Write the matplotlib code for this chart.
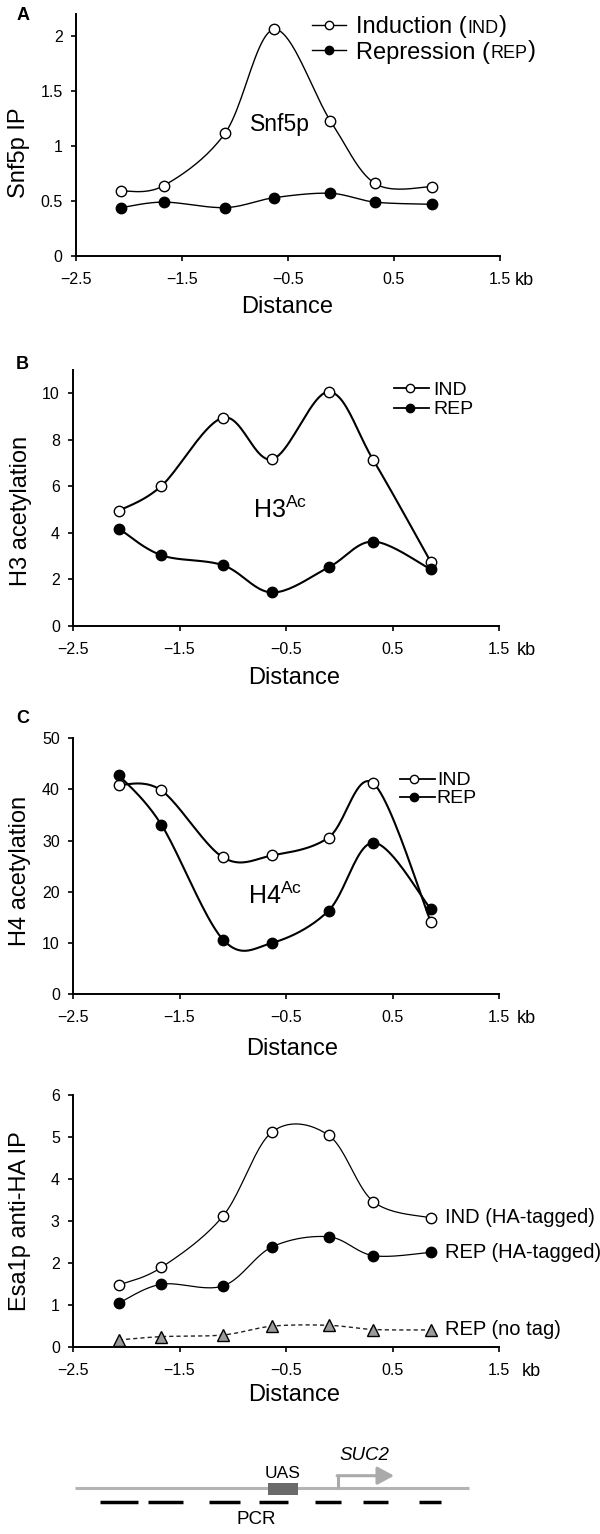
import numpy as np
import matplotlib
matplotlib.use("Agg")
import matplotlib.pyplot as plt
from matplotlib.transforms import offset_copy

plt.rcParams["font.family"] = ["Liberation Sans", "DejaVu Sans"]
plt.rcParams["mathtext.fontset"] = "custom"
plt.rcParams["mathtext.rm"] = "Liberation Sans"

# ── data ──────────────────────────────────────────────────────
distance = [-2.07, -1.67, -1.09, -0.63, -0.10, 0.32, 0.86]   # kb
x_ticks = [-2.5, -1.5, -0.5, 0.5, 1.5]

snf5_ind = [0.59, 0.64, 1.12, 2.06, 1.23, 0.66, 0.63]
snf5_rep = [0.44, 0.49, 0.44, 0.53, 0.57, 0.49, 0.47]

h3_ind = [4.94, 6.01, 8.95, 7.16, 10.06, 7.12, 2.74]
h3_rep = [4.18, 3.03, 2.60, 1.43, 2.51, 3.62, 2.42]

h4_ind = [40.9, 39.8, 26.7, 27.1, 30.6, 41.2, 14.1]
h4_rep = [42.8, 33.1, 10.6, 10.0, 16.3, 29.6, 16.6]

esa1_ind = [1.47, 1.89, 3.12, 5.12, 5.04, 3.46, 3.07]
esa1_rep = [1.04, 1.49, 1.45, 2.38, 2.62, 2.17, 2.25]
esa1_notag = [0.16, 0.24, 0.28, 0.49, 0.51, 0.41, 0.40]

# SUC2 locus sketch (kb)
locus_span = [-2.48, 1.22]
uas_span = [-0.67, -0.39]
tss, tss_arrow_end = -0.01, 0.515
pcr_start = [-2.25, -1.80, -1.22, -0.75, -0.23, 0.22, 0.75]
pcr_end = [-1.89, -1.47, -0.93, -0.48, 0.02, 0.46, 0.96]

W, H = 600, 1534
TICK_LEN, XPAD = 3.5, 8


def smooth(x, y, n=24):
    """Excel-style smoothed line (Catmull-Rom as cubic Bezier)."""
    p = np.column_stack([x, y]).astype(float)
    p = np.vstack([p[0], p, p[-1]])
    t = np.linspace(0, 1, n)[:, None]
    segs = []
    for i in range(1, len(p) - 2):
        p0, p1, p2, p3 = p[i - 1], p[i], p[i + 1], p[i + 2]
        c1 = p1 + (p2 - p0) / 6
        c2 = p2 - (p3 - p1) / 6
        segs.append((1 - t) ** 3 * p1 + 3 * (1 - t) ** 2 * t * c1
                    + 3 * (1 - t) * t ** 2 * c2 + t ** 3 * p2)
    out = np.vstack(segs)
    return out[:, 0], out[:, 1]


def series(ax, y, face, marker="o", lw=1.0, ms=7.5, ls="-", lc="black"):
    sx, sy = smooth(distance, y)
    ax.plot(sx, sy, color=lc, lw=lw, ls=ls, zorder=2)
    ax.plot(distance, y, ls="none", marker=marker, ms=ms, mfc=face,
            mec="black", mew=1.0, zorder=3)


def style_axes(ax, ylim, yticks, kb_x):
    ax.set_xlim(-2.5, 1.5)
    ax.set_ylim(*ylim)
    for s in ("top", "right"):
        ax.spines[s].set_visible(False)
    for s in ("left", "bottom"):
        ax.spines[s].set_linewidth(1.4)
    ax.set_xticks(x_ticks)
    ax.set_xticklabels([f"{v:g}".replace("-", "\u2212") for v in x_ticks])
    ax.set_yticks(yticks)
    ax.set_yticklabels([f"{v:g}" for v in yticks])
    ax.tick_params(length=TICK_LEN, width=1.2, pad=6, labelsize=11.5)
    ax.tick_params(axis="x", pad=XPAD)
    # "kb" unit sits level with the x tick labels
    tr = offset_copy(ax.get_xaxis_transform(), fig=fig, x=0,
                     y=-(TICK_LEN + XPAD), units="points")
    ax.text(kb_x, 0, "kb", fontsize=13, transform=tr, va="top", ha="left")


def axis_text(ax, xlabel_pos, ylabel, ylabel_pos):
    ax.text(xlabel_pos[0], xlabel_pos[1], "Distance", fontsize=17,
            ha="center", va="baseline", transform=ax.transAxes)
    ax.text(ylabel_pos[0], ylabel_pos[1], ylabel, fontsize=17, rotation=90,
            ha="center", va="center", transform=ax.transAxes)


def legend(ax, rows, x0, x1, xm, xt, ys, ms=5.5, lw=1.0):
    for (face, parts), y in zip(rows, ys):
        ax.plot([x0, x1], [y, y], color="black", lw=lw,
                transform=ax.transAxes, clip_on=False)
        ax.plot([xm], [y], marker="o", ms=ms, mfc=face, mec="black",
                mew=1.0, transform=ax.transAxes, clip_on=False)
        # first part centred on the row, the rest sit on its baseline
        prev = ax.text(xt, y, parts[0][0], fontsize=parts[0][1],
                       va="center_baseline", ha="left",
                       transform=ax.transAxes)
        for txt, size in parts[1:]:
            prev = ax.annotate(txt, xy=(1, 0), xycoords=prev,
                               xytext=(0.5, 0.215 * parts[0][1]),
                               textcoords="offset points",
                               fontsize=size, va="baseline", ha="left")


fig = plt.figure(figsize=(W / 100, H / 100), dpi=100)


def add_axes(left_px, right_px, top_px, bottom_px):
    return fig.add_axes([left_px / W, 1 - bottom_px / H,
                         (right_px - left_px) / W, (bottom_px - top_px) / H])


# ── A: Snf5p ──────────────────────────────────────────────────
ax = add_axes(75.8, 500, 14, 256)
series(ax, snf5_ind, "white", lw=1.0)
series(ax, snf5_rep, "black", lw=1.0)
style_axes(ax, (0, 2.2), [0, 0.5, 1, 1.5, 2], 1.64)
axis_text(ax, (0.497, -0.234), "Snf5p IP", (-0.134, 0.426))
ax.text(-0.57, 1.14, "Snf5p", fontsize=16.5, ha="center", va="baseline")
legend(ax, [("white", [("Induction (", 17), ("IND", 13), (")", 17)]),
            ("black", [("Repression (", 17), ("REP", 13), (")", 17)])],
       0.557, 0.637, 0.597, 0.660, [0.955, 0.851], ms=6)

# ── B: H3 acetylation ────────────────────────────────────────
ax = add_axes(73, 499, 370, 625.7)
series(ax, h3_ind, "white", lw=1.5)
series(ax, h3_rep, "black", lw=1.5)
style_axes(ax, (0, 11), [0, 2, 4, 6, 8, 10], 1.67)
axis_text(ax, (0.519, -0.228), "H3 acetylation", (-0.122, 0.449))
ax.text(-0.554, 4.62, r"H3$^{\mathregular{Ac}}$", fontsize=18,
        ha="center", va="baseline")
legend(ax, [("white", [("IND", 14)]), ("black", [("REP", 14)])],
       0.754, 0.836, 0.790, 0.845, [0.928, 0.853], ms=6, lw=1.3)

# ── C: H4 acetylation ────────────────────────────────────────
ax = add_axes(73, 499, 738.3, 994)
series(ax, h4_ind, "white", lw=1.5)
series(ax, h4_rep, "black", lw=1.5)
style_axes(ax, (0, 50), [0, 10, 20, 30, 40, 50], 1.67)
axis_text(ax, (0.514, -0.239), "H4 acetylation", (-0.124, 0.482))
ax.text(-0.603, 17.6, r"H4$^{\mathregular{Ac}}$", fontsize=18,
        ha="center", va="baseline")
legend(ax, [("white", [("IND", 14)]), ("black", [("REP", 14)])],
       0.768, 0.849, 0.800, 0.854, [0.841, 0.772], ms=6, lw=1.3)

# ── D: Esa1p anti-HA IP ──────────────────────────────────────
ax = add_axes(73, 499, 1095, 1346.7)
series(ax, esa1_ind, "white", lw=0.9)
series(ax, esa1_rep, "black", lw=0.9)
series(ax, esa1_notag, "#9a9a9a", marker="^", lw=1.0, ms=9,
       ls=(0, (3, 2.2)), lc="#222222")
style_axes(ax, (0, 6), [0, 1, 2, 3, 4, 5, 6], 1.71)
axis_text(ax, (0.519, -0.2145), "Esa1p anti-HA IP", (-0.124, 0.497))
for y, label in [(esa1_ind, "IND (HA-tagged)"),
                 (esa1_rep, "REP (HA-tagged)"),
                 (esa1_notag, "REP (no tag)")]:
    ax.annotate(label, xy=(distance[-1], y[-1]), xytext=(10.5, 0),
                textcoords="offset points", fontsize=14.5, va="center",
                ha="left", annotation_clip=False)

# ── SUC2 locus sketch ────────────────────────────────────────
g = add_axes(73, 499, 1440, 1534)
g.set_xlim(-2.5, 1.5)
g.set_ylim(0, 94)
g.axis("off")
g.plot(locus_span, [45.7, 45.7], color="#b4b4b4", lw=2.2,
       solid_capstyle="butt", zorder=1)
g.fill_between(uas_span, 38.7, 51.3, color="#6a6a6a", lw=0, zorder=3)
g.plot([tss, tss], [45.7, 58.3], color="#aaaaaa", lw=2.2,
       solid_capstyle="butt")
g.annotate("", xy=(tss_arrow_end, 58.3), xytext=(tss - 0.01, 58.3),
           arrowprops=dict(arrowstyle="-|>,head_length=0.5,head_width=0.27",
                           color="#aaaaaa", lw=2.2, mutation_scale=20,
                           shrinkA=0, shrinkB=0))
for s, e in zip(pcr_start, pcr_end):
    g.plot([s, e], [31.7, 31.7], color="black", lw=2.5, solid_capstyle="butt")
g.text(np.mean(uas_span), 60.7, "UAS", fontsize=12.5, ha="center",
       va="center")
g.text(0.232, 79, "SUC2", fontsize=13.5, style="italic", ha="center",
       va="center")
g.text(-0.784, 14, "PCR", fontsize=13.5, ha="center", va="center")

# panel letters
for letter, ybase in [("A", 20), ("B", 369), ("C", 722.7)]:
    fig.text(22.7 / W, 1 - ybase / H, letter, fontsize=13, fontweight="bold",
             ha="center", va="baseline")

fig.savefig("out.png", dpi=100)
